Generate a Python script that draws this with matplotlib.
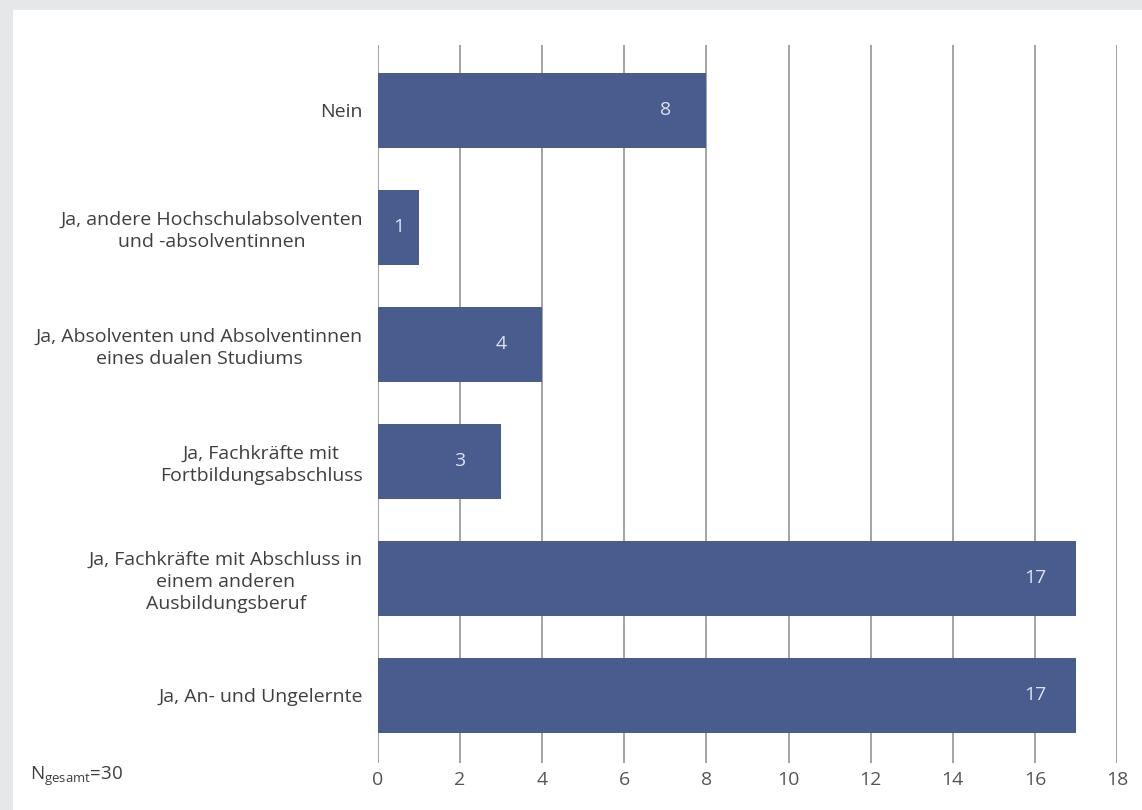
import matplotlib
matplotlib.use('Agg')
import matplotlib.pyplot as plt
from matplotlib.patches import Rectangle

plt.rcParams['font.family'] = ['Open Sans', 'DejaVu Sans']

categories = ['Nein',
              'Ja, andere Hochschulabsolventen\nund -absolventinnen',
              'Ja, Absolventen und Absolventinnen\neines dualen Studiums',
              'Ja, Fachkräfte mit\nFortbildungsabschluss',
              'Ja, Fachkräfte mit Abschluss in\neinem anderen\nAusbildungsberuf',
              'Ja, An- und Ungelernte']
values = [8, 1, 4, 3, 17, 17]
xticks = list(range(0, 20, 2))
note = r'N$_{\mathregular{gesamt}}$=30'

bar_col = '#485c8d'
text_col = '#3f3f3f'

fig = plt.figure(figsize=(11.42, 8.10), dpi=100)
fig.patch.set_facecolor('#e6e7e9')
fig.patches.append(Rectangle((13/1142, 0), 1, 800/810, transform=fig.transFigure,
                             facecolor='white', edgecolor='none', zorder=-10))

ax = fig.add_axes([378/1142, 1-763/810, (1117-378)/1142, (763-45)/810])
ax.set_facecolor('none')
pos = list(range(len(values)))
ax.barh(pos, values, height=0.64, color=bar_col, zorder=3)
for p, v in zip(pos, values):
    xt = v - 1 if v >= 2 else v / 2.
    ax.text(xt, p, str(v), color='#dde2ec', fontsize=14, ha='center', va='center', zorder=4)

ax.set_xlim(0, 18)
ax.set_ylim(5.58, -0.556)
ax.set_xticks(xticks)
ax.set_xticklabels([str(t) for t in xticks], fontsize=14, color='#555555')
ax.set_yticks(pos)
ax.set_yticklabels(categories, fontsize=14, color=text_col, linespacing=1.3)
for lab in ax.get_yticklabels():
    lab.set_multialignment('center')
ax.tick_params(axis='both', length=0)
ax.tick_params(axis='x', pad=6)
ax.tick_params(axis='y', pad=11)
ax.grid(axis='x', color='#a3a3a3', lw=1.4, zorder=1)
ax.grid(axis='y', visible=False)
for s in ax.spines.values():
    s.set_visible(False)

fig.text(30/1142, 1-776/810, note, fontsize=13.5, color=text_col, va='center')

fig.savefig('out.png', dpi=100, facecolor=fig.get_facecolor())
